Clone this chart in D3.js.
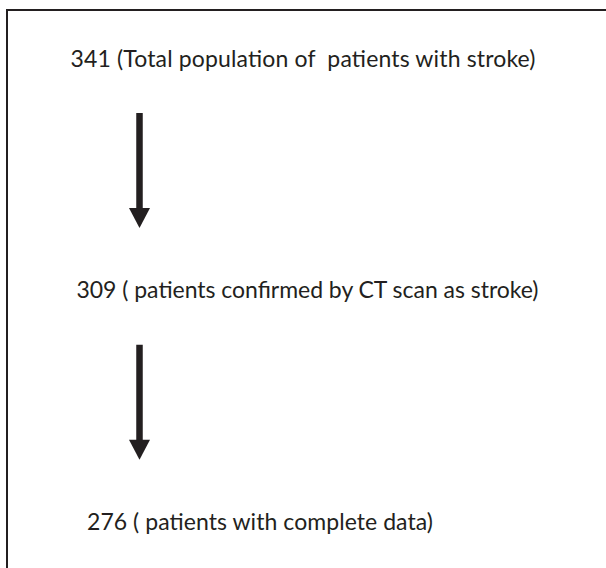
<!DOCTYPE html>
<html>
<head>
<meta charset="utf-8">
<script src="https://cdn.jsdelivr.net/npm/d3@7"></script>
<style>
  html, body { margin: 0; padding: 0; background: #fff; }
  text { white-space: pre; }
</style>
</head>
<body>
<script>
// ---- data ----
const counts = [341, 309, 276];
const descriptions = [
  "(Total population of  patients with stroke)",
  "( patients confirmed by CT scan as stroke)",
  "( patients with complete data)"
];
const stepIds = ["total", "confirmed", "complete"];

// ---- layout ----
const W = 606, H = 568;
const ink = "#231f20";
const textX = [70.5, 76.5, 87];
const textWidth = [465, 462, 346];

const svg = d3.select("body").append("svg")
  .attr("width", W).attr("height", H);

// frame (open on the right and bottom, as in the reference)
svg.append("rect")
  .attr("x", 7).attr("y", 10).attr("width", 640).attr("height", 620)
  .attr("fill", "none").attr("stroke", ink).attr("stroke-width", 2);

const y = d3.scalePoint().domain(stepIds).range([66.5, 530]);

const steps = stepIds.map((id, i) => ({ id, count: counts[i], desc: descriptions[i], i }));

svg.selectAll("text.step").data(steps).join("text")
  .attr("class", "step")
  .attr("x", d => textX[d.i])
  .attr("y", d => y(d.id))
  .attr("fill", ink)
  .attr("font-family", "Lato, 'Open Sans', sans-serif")
  .attr("font-size", 23)
  .attr("textLength", d => textWidth[d.i])
  .attr("lengthAdjust", "spacing")
  .text(d => d.count + " " + d.desc);

// arrows between consecutive steps
const arrowX = 139.5, shaftW = 6.5, headW = 21, headH = 20;
const pairs = d3.pairs(steps);
const arrows = svg.selectAll("g.arrow").data(pairs).join("g").attr("class", "arrow");
arrows.append("rect")
  .attr("x", arrowX - shaftW / 2)
  .attr("y", d => y(d[0].id) + 46.5)
  .attr("width", shaftW)
  .attr("height", d => (y(d[0].id) + 161.5 - headH + 1) - (y(d[0].id) + 46.5))
  .attr("fill", ink);
arrows.append("path")
  .attr("d", d => {
    const tip = y(d[0].id) + 161.5;
    return `M${arrowX - headW / 2},${tip - headH} L${arrowX + headW / 2},${tip - headH} L${arrowX},${tip} Z`;
  })
  .attr("fill", ink);
</script>
</body>
</html>
